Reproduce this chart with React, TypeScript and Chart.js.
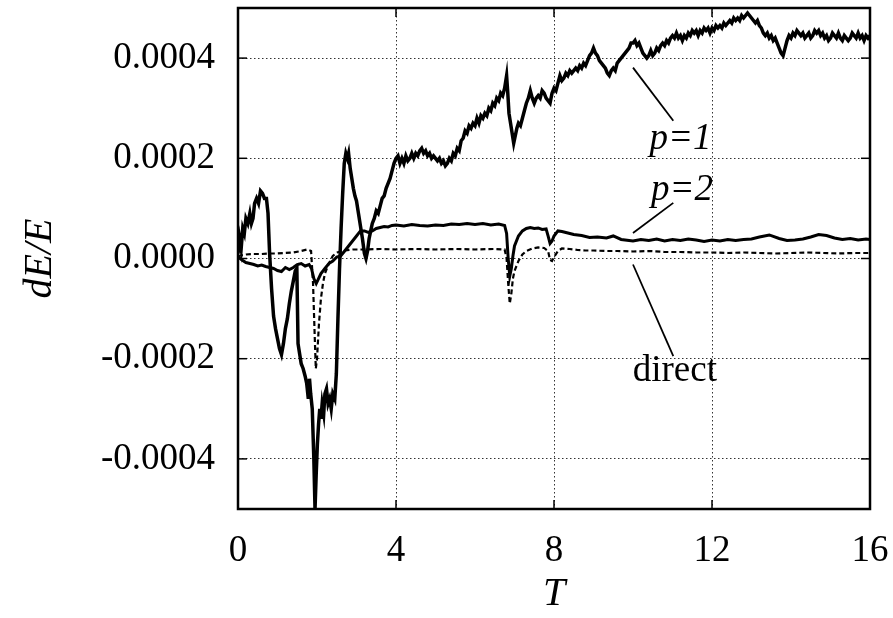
import React, { useEffect, useRef } from 'react';
import { Chart, registerables } from 'chart.js';

Chart.register(...registerables);

// values in units of 1e-5 (dE/E)
const UNIT = 1e-5;
const xTicks = [0, 4, 8, 12, 16];
const yTicks = [-0.0004, -0.0002, 0, 0.0002, 0.0004];

const p1Points: [number, number][] = [
  [0.00, 1], [0.04, 4], [0.08, 2], [0.12, 6], [0.16, 5], [0.20, 8], [0.25, 7], [0.30, 9], [0.34, 7], [0.38, 8],
  [0.42, 11], [0.47, 12], [0.52, 11], [0.57, 13.5], [0.62, 13], [0.67, 12], [0.72, 12], [0.76, 9], [0.80, 1], [0.85, -6],
  [0.90, -11.5], [0.95, -14], [1.00, -16], [1.05, -18], [1.10, -19.2], [1.15, -17], [1.20, -14], [1.25, -12], [1.30, -9], [1.35, -6.5],
  [1.40, -4.5], [1.45, -2.5], [1.49, -2], [1.52, -17], [1.56, -19], [1.60, -21], [1.65, -22], [1.70, -23.5], [1.74, -25], [1.78, -28],
  [1.81, -24], [1.84, -27], [1.88, -30], [1.92, -40], [1.95, -50], [1.98, -43], [2.01, -37], [2.04, -33], [2.07, -30], [2.10, -32],
  [2.13, -29], [2.17, -31], [2.20, -27], [2.24, -26], [2.28, -29], [2.32, -28], [2.36, -30], [2.40, -27], [2.45, -28], [2.49, -23],
  [2.53, -12], [2.57, -2], [2.61, 6], [2.65, 13], [2.69, 19], [2.73, 21], [2.77, 20], [2.80, 21], [2.84, 18], [2.88, 16],
  [2.92, 14], [2.96, 12.5], [3.00, 11.5], [3.05, 9], [3.10, 6.5], [3.15, 4], [3.20, 1], [3.24, 0], [3.28, 1.5], [3.32, 4],
  [3.36, 5.5], [3.40, 7], [3.45, 8], [3.50, 9.5], [3.55, 9], [3.60, 10.5], [3.65, 12], [3.70, 12.5], [3.75, 14], [3.80, 15],
  [3.85, 16], [3.90, 17.5], [3.95, 19], [4.00, 20], [4.05, 20.5], [4.10, 19], [4.15, 20], [4.20, 19], [4.25, 20.5], [4.30, 19.5],
  [4.35, 20], [4.40, 21], [4.45, 20], [4.50, 21], [4.55, 20.5], [4.60, 21.5], [4.65, 22], [4.70, 21], [4.75, 21.5], [4.80, 20.5],
  [4.85, 21], [4.90, 20], [4.95, 20.5], [5.00, 20], [5.05, 19.5], [5.10, 20], [5.15, 19], [5.20, 19.5], [5.25, 18.5], [5.30, 19],
  [5.35, 20], [5.40, 19.5], [5.45, 21], [5.50, 20.5], [5.55, 22], [5.60, 21.5], [5.65, 23.5], [5.70, 24], [5.75, 25.5], [5.80, 25],
  [5.85, 26.5], [5.90, 26], [5.95, 27], [6.00, 26.5], [6.05, 28], [6.10, 27], [6.15, 28.5], [6.20, 28], [6.25, 29], [6.30, 28.5],
  [6.35, 30], [6.40, 29.5], [6.45, 31], [6.50, 30.5], [6.55, 32], [6.60, 31.5], [6.65, 33], [6.70, 32.5], [6.75, 34], [6.80, 36.5],
  [6.83, 33], [6.86, 29], [6.90, 27], [6.94, 25], [6.98, 23], [7.02, 24.5], [7.06, 26], [7.10, 27], [7.15, 26.5], [7.20, 28],
  [7.25, 29.5], [7.30, 31], [7.35, 32], [7.40, 33.5], [7.45, 32], [7.50, 31], [7.55, 32], [7.60, 32.5], [7.65, 32], [7.70, 33.5],
  [7.75, 33], [7.80, 32], [7.85, 31.5], [7.90, 31], [7.95, 33], [8.00, 34], [8.05, 33.5], [8.10, 35], [8.15, 36.5], [8.20, 35.5],
  [8.25, 36], [8.30, 37], [8.35, 36.5], [8.40, 37.5], [8.45, 37], [8.50, 37.5], [8.55, 38], [8.60, 37.5], [8.65, 38.5], [8.70, 38],
  [8.75, 39], [8.80, 38.5], [8.85, 39.5], [8.90, 40.5], [8.95, 41], [9.00, 42], [9.05, 41], [9.10, 40.5], [9.15, 39.5], [9.20, 39],
  [9.25, 38.5], [9.30, 38], [9.35, 37], [9.40, 36.5], [9.45, 37.5], [9.50, 38], [9.55, 37.5], [9.60, 39], [9.65, 39.5], [9.70, 40],
  [9.75, 40.5], [9.80, 41], [9.85, 41.5], [9.90, 42], [9.95, 43], [10.00, 43], [10.05, 43.5], [10.10, 42.5], [10.15, 43], [10.20, 42],
  [10.25, 41], [10.30, 40.5], [10.35, 40], [10.40, 40.5], [10.45, 41.5], [10.50, 40.5], [10.55, 41], [10.60, 42], [10.65, 41.5], [10.70, 42.5],
  [10.75, 43], [10.80, 42.5], [10.85, 43.5], [10.90, 43], [10.95, 44], [11.00, 44.5], [11.05, 44], [11.10, 45], [11.15, 44], [11.20, 44.5],
  [11.25, 43.5], [11.30, 44.5], [11.35, 44], [11.40, 45], [11.45, 44.5], [11.50, 45.5], [11.55, 45], [11.60, 45.5], [11.65, 44.5], [11.70, 45.5],
  [11.75, 45], [11.80, 46], [11.85, 45.5], [11.90, 46], [11.95, 45], [12.00, 46], [12.05, 45.5], [12.10, 46.5], [12.15, 46], [12.20, 46.5],
  [12.25, 46], [12.30, 47], [12.35, 46.5], [12.40, 47], [12.45, 47.5], [12.50, 47], [12.55, 48], [12.60, 47.5], [12.65, 48], [12.70, 47.5],
  [12.75, 48.5], [12.80, 48], [12.85, 48.5], [12.90, 49], [12.95, 48.5], [13.00, 48], [13.05, 47.5], [13.10, 47], [13.15, 47.5], [13.20, 46.5],
  [13.25, 46], [13.30, 45], [13.35, 44.5], [13.40, 45], [13.45, 44], [13.50, 44.5], [13.55, 43.5], [13.60, 44], [13.65, 43], [13.70, 42],
  [13.75, 41], [13.80, 40.5], [13.85, 42], [13.90, 43.5], [13.95, 44.5], [14.00, 44], [14.05, 45], [14.10, 44.5], [14.15, 45.5], [14.20, 45],
  [14.25, 44.5], [14.30, 45], [14.35, 44], [14.40, 44.5], [14.45, 45], [14.50, 44], [14.55, 44.5], [14.60, 45.5], [14.65, 45], [14.70, 45.5],
  [14.75, 44.5], [14.80, 45], [14.85, 44], [14.90, 44.5], [14.95, 43.5], [15.00, 44], [15.05, 45], [15.10, 44.5], [15.15, 44], [15.20, 45],
  [15.25, 44], [15.30, 43.5], [15.35, 44.5], [15.40, 44], [15.45, 43.5], [15.50, 44], [15.55, 45], [15.60, 44.5], [15.65, 44], [15.70, 45],
  [15.75, 44], [15.80, 44.5], [15.85, 43.5], [15.90, 44.5], [15.95, 44], [16.00, 44.5],
];

const p2Points: [number, number][] = [
  [0.00, 0.5], [0.05, 0], [0.10, -0.3], [0.20, -0.8], [0.30, -1], [0.40, -1.2], [0.50, -1.5], [0.60, -1.3], [0.70, -1.6], [0.80, -1.8],
  [0.90, -2], [1.00, -2.4], [1.10, -2.6], [1.20, -1.8], [1.30, -2.2], [1.40, -1.8], [1.50, -1.2], [1.60, -1.0], [1.70, -1.5], [1.80, -1.2],
  [1.86, -2], [1.92, -4], [1.98, -5], [2.04, -4], [2.10, -3], [2.20, -2], [2.30, -1], [2.40, -0.5], [2.50, 0.3], [2.60, 0.5],
  [2.70, 1.5], [2.80, 2.5], [2.90, 3.5], [3.00, 4.5], [3.10, 5.5], [3.20, 5.5], [3.30, 5.2], [3.40, 5.5], [3.50, 6], [3.60, 6.2],
  [3.70, 6.4], [3.80, 6.3], [3.90, 6.6], [4.00, 6.7], [4.20, 6.5], [4.40, 6.8], [4.60, 6.6], [4.80, 6.5], [5.00, 6.7], [5.20, 6.6],
  [5.40, 6.9], [5.60, 6.8], [5.80, 7.0], [6.00, 6.8], [6.20, 7.0], [6.40, 6.7], [6.60, 6.9], [6.75, 6.6], [6.80, 5], [6.84, 0],
  [6.88, -3.5], [6.92, -2], [6.96, 0.5], [7.00, 2.5], [7.10, 4.5], [7.20, 5.5], [7.30, 6], [7.40, 6.2], [7.50, 6], [7.60, 6.1],
  [7.70, 5.8], [7.80, 5.9], [7.85, 4.5], [7.90, 3], [7.95, 3.5], [8.00, 4.5], [8.10, 5.5], [8.20, 5.4], [8.30, 5.2], [8.50, 4.8],
  [8.70, 4.6], [8.90, 4.2], [9.10, 4.3], [9.33, 4.1], [9.50, 4.5], [9.70, 3.8], [10.00, 3.5], [10.20, 3.8], [10.40, 3.6], [10.60, 3.9],
  [10.80, 3.5], [11.00, 3.8], [11.20, 3.6], [11.40, 3.9], [11.60, 3.7], [11.80, 3.4], [12.00, 3.7], [12.20, 3.5], [12.40, 3.8], [12.60, 3.6],
  [12.80, 3.8], [13.00, 3.9], [13.20, 4.3], [13.45, 4.7], [13.70, 4.0], [13.90, 3.6], [14.10, 3.7], [14.30, 3.9], [14.50, 4.3], [14.70, 4.8],
  [14.90, 4.6], [15.10, 4.1], [15.30, 3.8], [15.50, 4.0], [15.70, 3.7], [15.90, 3.9], [16.00, 3.8],
];

const directPoints: [number, number][] = [
  [0.00, 0.5], [0.20, 0.8], [0.40, 0.9], [0.60, 0.9], [0.80, 1.0], [1.00, 1.0], [1.20, 1.1], [1.40, 1.2], [1.60, 1.5], [1.75, 1.8],
  [1.85, 1.5], [1.90, -5], [1.94, -15], [1.97, -22], [2.00, -20], [2.05, -13], [2.10, -8], [2.15, -5], [2.20, -3], [2.30, -1],
  [2.40, 0.5], [2.50, 1.2], [2.70, 1.6], [2.90, 1.8], [3.20, 1.8], [3.60, 1.9], [4.00, 1.8], [4.50, 1.9], [5.00, 1.8], [5.50, 1.9],
  [6.00, 1.8], [6.50, 1.9], [6.75, 1.8], [6.80, 0], [6.84, -5], [6.88, -9], [6.92, -7], [6.96, -4], [7.00, -2.5], [7.10, -0.5],
  [7.20, 0.8], [7.30, 1.5], [7.45, 2], [7.60, 2.2], [7.75, 2.1], [7.85, 1.5], [7.90, -0.3], [7.95, -0.5], [8.00, 0.3], [8.10, 1.5],
  [8.20, 2], [8.40, 1.9], [8.60, 1.7], [8.80, 1.6], [9.00, 1.6], [9.30, 1.5], [9.60, 1.5], [10.00, 1.4], [10.40, 1.5], [10.80, 1.3],
  [11.20, 1.3], [11.60, 1.2], [12.00, 1.2], [12.40, 1.1], [12.80, 1.2], [13.20, 1.1], [13.60, 1.0], [14.00, 1.1], [14.40, 1.2], [14.80, 1.1],
  [15.20, 1.0], [15.60, 1.1], [16.00, 1.1],
];

// curve labels: text, italic, anchor [T, value(1e-5)] (baseline centre)
const labelTexts = ['p=1', 'p=2', 'direct'];
const labelItalic = [true, true, false];
const labelAnchors: [number, number][] = [[11.2, 21.8], [11.24, 11.6], [11.06, -24.5]];
// leader lines [T1, v1, T2, v2] in data units (1e-5)
const leaderLines: [number, number, number, number][] = [
  [10.0, 38.1, 11.02, 27.5],
  [11.02, 11.1, 10.0, 5.1],
  [10.0, -1.2, 11.02, -19.5],
];

const SERIF = "'Liberation Serif', 'Times New Roman', Times, serif";

const toXY = (pts: [number, number][]) => pts.map(([t, v]) => ({ x: t, y: v * UNIT }));

const decorPlugin = {
  id: 'decor',
  afterDatasetsDraw(chart: any) {
    const { ctx, chartArea: a, scales } = chart;
    const x = scales.x;
    const y = scales.y;
    ctx.save();
    ctx.strokeStyle = '#000';
    ctx.setLineDash([]);
    const seg = (x1: number, y1: number, x2: number, y2: number) => {
      ctx.beginPath();
      ctx.moveTo(x1, y1);
      ctx.lineTo(x2, y2);
      ctx.stroke();
    };
    // inward ticks (mirrored)
    ctx.lineWidth = 1.5;
    const tl = 9;
    xTicks.forEach((v) => {
      const px = x.getPixelForValue(v);
      seg(px, a.bottom, px, a.bottom - tl);
      seg(px, a.top, px, a.top + tl);
    });
    yTicks.forEach((v) => {
      const py = y.getPixelForValue(v);
      seg(a.left, py, a.left + tl, py);
      seg(a.right, py, a.right - tl, py);
    });
    // frame
    ctx.lineWidth = 2.5;
    ctx.strokeRect(a.left, a.top, a.right - a.left, a.bottom - a.top);
    // leader lines
    ctx.lineWidth = 1.8;
    leaderLines.forEach(([t1, v1, t2, v2]) => {
      seg(x.getPixelForValue(t1), y.getPixelForValue(v1 * UNIT), x.getPixelForValue(t2), y.getPixelForValue(v2 * UNIT));
    });
    // labels
    ctx.fillStyle = '#000';
    ctx.textAlign = 'center';
    ctx.textBaseline = 'alphabetic';
    labelTexts.forEach((txt, i) => {
      ctx.font = `${labelItalic[i] ? 'italic ' : ''}37px ${SERIF}`;
      const [t, v] = labelAnchors[i];
      ctx.fillText(txt, x.getPixelForValue(t), y.getPixelForValue(v * UNIT));
    });
    ctx.restore();
  },
};

export default function App() {
  const ref = useRef<HTMLCanvasElement>(null);
  useEffect(() => {
    if (!ref.current) return;
    const chart = new Chart(ref.current, {
      type: 'line',
      data: {
        datasets: [
          {
            label: 'direct',
            data: toXY(directPoints),
            borderColor: '#000',
            borderWidth: 2.2,
            borderDash: [5, 3],
            pointRadius: 0,
            tension: 0,
          },
          {
            label: 'p=2',
            data: toXY(p2Points),
            borderColor: '#000',
            borderWidth: 3,
            pointRadius: 0,
            tension: 0,
          },
          {
            label: 'p=1',
            data: toXY(p1Points),
            borderColor: '#000',
            borderWidth: 3.5,
            pointRadius: 0,
            tension: 0,
          },
        ],
      },
      options: {
        responsive: false,
        devicePixelRatio: 1,
        animation: false,
        layout: { padding: { top: 8, right: 23, left: 0, bottom: 0 } },
        plugins: {
          legend: { display: false },
          tooltip: { enabled: false },
        },
        scales: {
          x: {
            type: 'linear',
            min: 0,
            max: 16,
            afterBuildTicks: (s: any) => {
              s.ticks = xTicks.map((v) => ({ value: v }));
            },
            afterFit: (s: any) => {
              s.height = 109;
              s.paddingLeft = 0;
              s.paddingRight = 0;
            },
            grid: { color: '#333', lineWidth: 1, drawTicks: false },
            border: { display: false, dash: [1.5, 2.5] },
            ticks: {
              padding: 20,
              color: '#000',
              font: { family: SERIF, size: 37 },
              maxRotation: 0,
              callback: (v: any) => String(v),
            },
            title: {
              display: true,
              text: 'T',
              color: '#000',
              font: { family: SERIF, size: 40, style: 'italic' },
              padding: { top: 0, bottom: 0 },
            },
          },
          y: {
            type: 'linear',
            min: -0.0005,
            max: 0.0005,
            afterBuildTicks: (s: any) => {
              s.ticks = yTicks.map((v) => ({ value: v }));
            },
            afterFit: (s: any) => {
              s.width = 238;
              s.paddingTop = 0;
              s.paddingBottom = 0;
            },
            grid: { color: '#333', lineWidth: 1, drawTicks: false },
            border: { display: false, dash: [1.5, 2.5] },
            ticks: {
              padding: 23,
              color: '#000',
              font: { family: SERIF, size: 37 },
              callback: (v: any) => Number(v).toFixed(4),
            },
            title: {
              display: true,
              text: 'dE/E',
              color: '#000',
              font: { family: SERIF, size: 40, style: 'italic' },
              padding: { top: 16, bottom: 0 },
            },
          },
        },
      },
      plugins: [decorPlugin],
    } as any);
    return () => chart.destroy();
  }, []);
  return (
    <div style={{ position: 'absolute', left: 0, top: 0, width: 893, height: 618, background: '#fff' }}>
      <canvas ref={ref} width={893} height={618} style={{ display: 'block' }} />
    </div>
  );
}
